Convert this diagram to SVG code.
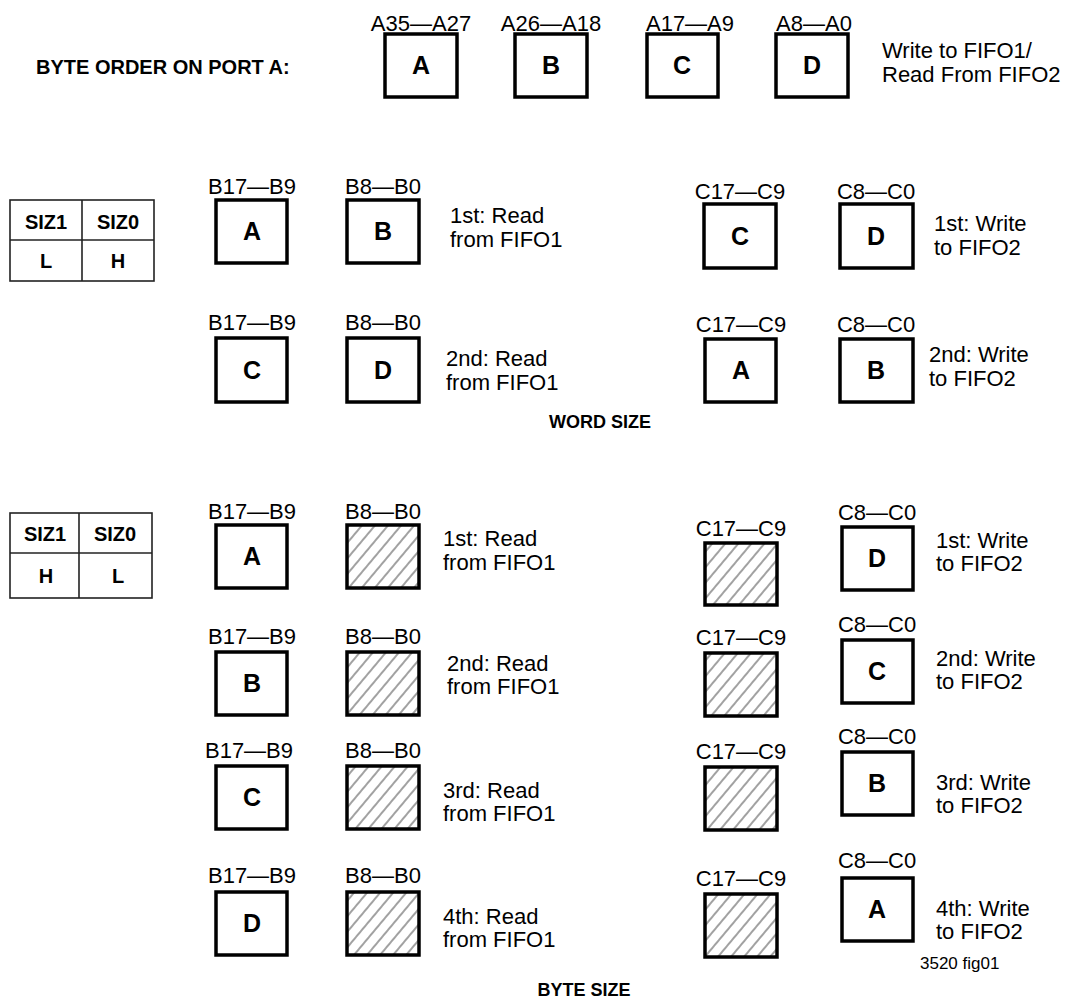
<svg xmlns="http://www.w3.org/2000/svg" width="1071" height="1000" viewBox="0 0 1071 1000">
<style>
text { font-family: "Liberation Sans", Arial, Helvetica, sans-serif; fill: #000; }
.t { font-size: 22px; }
.tc { font-size: 22px; text-anchor: middle; }
.big { font-size: 25px; font-weight: bold; text-anchor: middle; }
.hd { font-size: 20px; font-weight: bold; }
.hdc { font-size: 18px; font-weight: bold; text-anchor: middle; }
.cell { font-size: 20px; font-weight: bold; text-anchor: middle; }
.small { font-size: 17px; }
.box { fill: #fff; stroke: #000; stroke-width: 3.5; }
.hbox { fill: url(#hatch); stroke: #000; stroke-width: 3.5; }
.tbl { fill: none; stroke: #222; stroke-width: 1.6; }
</style>
<defs>
<pattern id="hatch" patternUnits="userSpaceOnUse" width="10" height="10" patternTransform="rotate(40)">
<rect width="10" height="10" fill="#fff"/>
<line x1="5" y1="0" x2="5" y2="10" stroke="#444" stroke-width="1"/>
</pattern>
</defs>

<g id="title-port-a"><text class="hd" x="36" y="74">BYTE ORDER ON PORT A:</text></g>
<g id="portA-A"><text class="tc" x="421" y="31">A35—A27</text><rect class="box" x="385" y="34" width="72" height="63"/><text class="big" x="421" y="74">A</text></g>
<g id="portA-B"><text class="tc" x="551" y="31">A26—A18</text><rect class="box" x="515" y="34" width="72" height="63"/><text class="big" x="551" y="74">B</text></g>
<g id="portA-C"><text class="tc" x="690" y="31">A17—A9</text><rect class="box" x="647" y="34" width="71" height="63"/><text class="big" x="682" y="74">C</text></g>
<g id="portA-D"><text class="tc" x="814" y="31">A8—A0</text><rect class="box" x="776" y="34" width="72" height="63"/><text class="big" x="812" y="74">D</text></g>
<g id="portA-note"><text class="t" x="882" y="58">Write to FIFO1/</text><text class="t" x="882" y="82">Read From FIFO2</text></g>

<g id="word-table">
<rect class="tbl" x="10" y="200" width="144" height="81"/>
<line class="tbl" x1="10" y1="240" x2="154" y2="240"/>
<line class="tbl" x1="82" y1="200" x2="82" y2="281"/>
<text class="cell" x="46" y="229">SIZ1</text><text class="cell" x="118" y="229">SIZ0</text>
<text class="cell" x="46" y="268">L</text><text class="cell" x="118" y="268">H</text>
</g>

<g id="word-B1-A"><text class="tc" x="252" y="194">B17—B9</text><rect class="box" x="216" y="200" width="71" height="63"/><text class="big" x="252" y="240">A</text></g>
<g id="word-B1-B"><text class="tc" x="383" y="194">B8—B0</text><rect class="box" x="347" y="200" width="72" height="63"/><text class="big" x="383" y="240">B</text></g>
<g id="word-B1-note"><text class="t" x="450" y="223">1st: Read</text><text class="t" x="450" y="247">from FIFO1</text></g>
<g id="word-C1-C"><text class="tc" x="740" y="199">C17—C9</text><rect class="box" x="704" y="204" width="72" height="64"/><text class="big" x="740" y="245">C</text></g>
<g id="word-C1-D"><text class="tc" x="876" y="199">C8—C0</text><rect class="box" x="840" y="204" width="73" height="64"/><text class="big" x="876" y="245">D</text></g>
<g id="word-C1-note"><text class="t" x="934" y="231">1st: Write</text><text class="t" x="934" y="255">to FIFO2</text></g>

<g id="word-B2-C"><text class="tc" x="252" y="330">B17—B9</text><rect class="box" x="216" y="338" width="71" height="64"/><text class="big" x="252" y="379">C</text></g>
<g id="word-B2-D"><text class="tc" x="383" y="330">B8—B0</text><rect class="box" x="347" y="338" width="72" height="64"/><text class="big" x="383" y="379">D</text></g>
<g id="word-B2-note"><text class="t" x="446" y="366">2nd: Read</text><text class="t" x="446" y="390">from FIFO1</text></g>
<g id="word-C2-A"><text class="tc" x="741" y="332">C17—C9</text><rect class="box" x="705" y="339" width="71" height="63"/><text class="big" x="741" y="379">A</text></g>
<g id="word-C2-B"><text class="tc" x="876" y="332">C8—C0</text><rect class="box" x="840" y="339" width="73" height="63"/><text class="big" x="876" y="379">B</text></g>
<g id="word-C2-note"><text class="t" x="929" y="362">2nd: Write</text><text class="t" x="929" y="386">to FIFO2</text></g>

<g id="word-size-caption"><text class="hdc" x="600" y="428">WORD SIZE</text></g>

<g id="byte-table">
<rect class="tbl" x="10" y="513" width="142" height="85"/>
<line class="tbl" x1="10" y1="553" x2="152" y2="553"/>
<line class="tbl" x1="79" y1="513" x2="79" y2="598"/>
<text class="cell" x="45" y="541">SIZ1</text><text class="cell" x="115" y="541">SIZ0</text>
<text class="cell" x="46" y="583">H</text><text class="cell" x="118" y="583">L</text>
</g>

<g id="byte-B1-A"><text class="tc" x="252" y="519">B17—B9</text><rect class="box" x="216" y="525" width="71" height="63"/><text class="big" x="252" y="565">A</text></g>
<g id="byte-B1-X"><text class="tc" x="383" y="519">B8—B0</text><rect class="hbox" x="347" y="525" width="72" height="63"/></g>
<g id="byte-B1-note"><text class="t" x="443" y="546">1st: Read</text><text class="t" x="443" y="570">from FIFO1</text></g>
<g id="byte-C1-X"><text class="tc" x="741" y="536">C17—C9</text><rect class="hbox" x="705" y="543" width="72" height="62"/></g>
<g id="byte-C1-D"><text class="tc" x="877" y="520">C8—C0</text><rect class="box" x="842" y="527" width="71" height="63"/><text class="big" x="877" y="567">D</text></g>
<g id="byte-C1-note"><text class="t" x="936" y="548">1st: Write</text><text class="t" x="936" y="571">to FIFO2</text></g>

<g id="byte-B2-B"><text class="tc" x="252" y="644">B17—B9</text><rect class="box" x="216" y="652" width="71" height="63"/><text class="big" x="252" y="692">B</text></g>
<g id="byte-B2-X"><text class="tc" x="383" y="644">B8—B0</text><rect class="hbox" x="347" y="652" width="72" height="63"/></g>
<g id="byte-B2-note"><text class="t" x="447" y="671">2nd: Read</text><text class="t" x="447" y="694">from FIFO1</text></g>
<g id="byte-C2-X"><text class="tc" x="741" y="645">C17—C9</text><rect class="hbox" x="705" y="653" width="72" height="63"/></g>
<g id="byte-C2-C"><text class="tc" x="877" y="632">C8—C0</text><rect class="box" x="842" y="640" width="71" height="63"/><text class="big" x="877" y="680">C</text></g>
<g id="byte-C2-note"><text class="t" x="936" y="666">2nd: Write</text><text class="t" x="936" y="689">to FIFO2</text></g>

<g id="byte-B3-C"><text class="tc" x="249" y="758">B17—B9</text><rect class="box" x="216" y="766" width="71" height="63"/><text class="big" x="252" y="806">C</text></g>
<g id="byte-B3-X"><text class="tc" x="383" y="758">B8—B0</text><rect class="hbox" x="347" y="766" width="72" height="63"/></g>
<g id="byte-B3-note"><text class="t" x="443" y="798">3rd: Read</text><text class="t" x="443" y="821">from FIFO1</text></g>
<g id="byte-C3-X"><text class="tc" x="741" y="759">C17—C9</text><rect class="hbox" x="705" y="767" width="72" height="63"/></g>
<g id="byte-C3-B"><text class="tc" x="877" y="744">C8—C0</text><rect class="box" x="842" y="752" width="71" height="63"/><text class="big" x="877" y="792">B</text></g>
<g id="byte-C3-note"><text class="t" x="936" y="790">3rd: Write</text><text class="t" x="936" y="813">to FIFO2</text></g>

<g id="byte-B4-D"><text class="tc" x="252" y="883">B17—B9</text><rect class="box" x="216" y="892" width="71" height="63"/><text class="big" x="252" y="932">D</text></g>
<g id="byte-B4-X"><text class="tc" x="383" y="883">B8—B0</text><rect class="hbox" x="347" y="892" width="72" height="63"/></g>
<g id="byte-B4-note"><text class="t" x="443" y="924">4th: Read</text><text class="t" x="443" y="947">from FIFO1</text></g>
<g id="byte-C4-X"><text class="tc" x="741" y="886">C17—C9</text><rect class="hbox" x="705" y="894" width="72" height="63"/></g>
<g id="byte-C4-A"><text class="tc" x="877" y="868">C8—C0</text><rect class="box" x="842" y="878" width="71" height="63"/><text class="big" x="877" y="918">A</text></g>
<g id="byte-C4-note"><text class="t" x="936" y="916">4th: Write</text><text class="t" x="936" y="939">to FIFO2</text></g>

<g id="byte-size-caption"><text class="hdc" x="584" y="996">BYTE SIZE</text></g>
<g id="fig-id"><text class="small" x="920" y="969">3520 fig01</text></g>
<g id="connectors"/>
</svg>
